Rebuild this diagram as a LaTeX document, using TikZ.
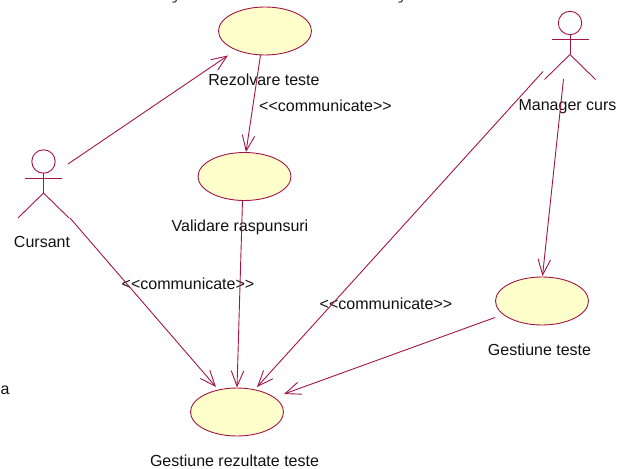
\documentclass[tikz,border=0pt]{standalone}
\usepackage{fontspec}
\setmainfont{Liberation Sans}[Ligatures=NoCommon]
\usetikzlibrary{arrows.meta,calc,shapes.geometric}
\definecolor{umlline}{HTML}{A31545}
\definecolor{umlfill}{HTML}{FFFFCC}
\definecolor{umltext}{HTML}{111111}
\tikzset{
  usecase/.style={draw=umlline,fill=umlfill,line width=0.9pt,ellipse,minimum width=93pt,minimum height=48pt,inner sep=0pt},
  lbl/.style={text=umltext,font=\fontsize{16}{18}\selectfont,inner sep=0pt,anchor=base},
  conn/.style={draw=umlline,line width=0.9pt,-{Straight Barb[length=15.5pt,width=12.5pt,line width=0.9pt]}},
  stick/.style={draw=umlline,line width=0.9pt},
  frag/.style={draw=umltext,line width=0.9pt},
  stickman/.pic={
    \draw[stick] (0,-16.5) circle[radius=11.7];
    \draw[stick] (0,-4.8) -- (0,15);
    \draw[stick] (-18.5,0) -- (18.5,0);
    \draw[stick] (-25.5,40) -- (0,15) -- (25.5,40);
  }
}
\newcommand{\stereo}{<{}<communicate>{}>}
\begin{document}
\begin{tikzpicture}[x=1pt,y=-1pt]
\useasboundingbox (0,0) rectangle (628,468);
\node[usecase] (rez) at (265,31) {};
\node[usecase] (val) at (244.5,176.5) {};
\node[usecase] (gr) at (237,412) {};
\node[usecase] (gt) at (542,301) {};
\coordinate (cur) at (43.5,178);
\coordinate (man) at (570,39.5);
\pic at (cur) {stickman};
\pic at (man) {stickman};
\node[lbl] (lrez) at (264,85) {Rezolvare teste};
\node[lbl] (lval) at (240,231.4) {Validare raspunsuri};
\node[lbl] (lgr) at (234.5,466) {Gestiune rezultate teste};
\node[lbl] (lgt) at (539.5,355) {Gestiune teste};
\node[lbl] (lcur) at (42,247.4) {Cursant};
\node[lbl] (lman) at (567.5,110.5) {Manager curs};
\node[lbl] (c1) at (325.5,111.7) {\stereo};
\node[lbl] (c2) at (188,289.5) {\stereo};
\node[lbl] (c3) at (386,309.7) {\stereo};
\node[lbl] (la) at (5,394) {a};
\draw[conn] ([shift={(24.5,-14)}]cur) -- ([shift={(-37,24.5)}]rez.center);
\draw[conn] ([shift={(-4.5,24)}]rez.center) -- ([shift={(1.5,-24.5)}]val.center);
\draw[conn] ([shift={(26.5,40)}]cur) -- ([shift={(-21,-25)}]gr.center);
\draw[conn] ([shift={(-2,24)}]val.center) -- ([shift={(0,-24.5)}]gr.center);
\draw[conn] ([shift={(-27,32)}]man) -- ([shift={(20,-25)}]gr.center);
\draw[conn] ([shift={(-6.5,39.5)}]man) -- ([shift={(0.5,-25)}]gt.center);
\draw[conn] ([shift={(-47,16.5)}]gt.center) -- ([shift={(47,-18)}]gr.center);
\draw[frag] (176.5,0) -- (175.5,1.8) -- (172.5,2.2);
\draw[frag] (402.5,0) -- (401.5,1.8) -- (398.5,2.2);
\end{tikzpicture}
\end{document}
